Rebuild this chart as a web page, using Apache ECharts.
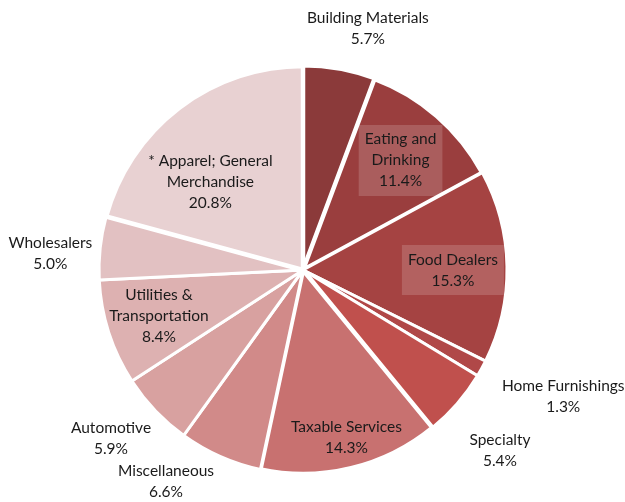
<!DOCTYPE html>
<html><head><meta charset="utf-8">
<script src="https://cdn.jsdelivr.net/npm/echarts@6/dist/echarts.min.js"></script>
<style>html,body{margin:0;padding:0;background:#fff}#c{width:625px;height:502px}</style>
</head><body><div id="c"></div>
<script>
const categories = ["Building Materials","Eating and\nDrinking","Food Dealers","Home Furnishings","Specialty","Taxable Services","Miscellaneous","Automotive","Utilities &\nTransportation","Wholesalers","* Apparel; General\nMerchandise"];
const values = [5.7, 11.4, 15.3, 1.3, 5.4, 14.3, 6.6, 5.9, 8.4, 5.0, 20.8];
const colors = ["#8B3A3A","#9A3E3E","#A54342","#B04848","#C0504D","#C87170","#D18A89","#D8A1A0","#DDB1B1","#E2C1C2","#E8D1D2"];
// label placement: radial fraction of radius and angular nudge (degrees) from slice mid-angle
const labelRadius = [1.224, 0.719, 0.735, 1.419, 1.31, 0.847, 1.236, 1.251, 0.741, 1.241, 0.626];
const labelNudge = [4.8, 0.7, 1.0, -2.9, 1.6, -0.9, 9.0, 2.4, 0.2, -2.4, -9.1];
const boxed = [false, true, true, false, false, false, false, false, false, false, false];
const wideBorder = [false, true, false, false, false, true, false, false, false, false, true];

const CX = 303, CY = 270, R = 204;
const total = values.reduce((a, b) => a + b, 0);
const midAngles = [];
let acc = 0;
values.forEach(v => { midAngles.push((acc + v / 2) / total * 360); acc += v; });

const chart = echarts.init(document.getElementById('c'), null, {renderer:'canvas'});
chart.setOption({
  animation: false,
  series: [{
    type: 'pie',
    center: [CX, CY],
    radius: [0, R],
    startAngle: 90,
    clockwise: true,
    itemStyle: {borderColor: '#fff', borderWidth: 3},
    emphasis: {disabled: true},
    labelLine: {show: false},
    label: {
      show: true,
      position: 'inside',
      formatter: p => p.name + '\n' + p.value.toFixed(1) + '%',
      fontFamily: 'Lato',
      fontSize: 15.5,
      lineHeight: 21,
      color: '#1a1a1a',
      align: 'center'
    },
    labelLayout: function (params) {
      const i = params.dataIndex;
      const a = (midAngles[i] + labelNudge[i]) * Math.PI / 180;
      const d = labelRadius[i] * R;
      return {x: CX + Math.sin(a) * d, y: CY - Math.cos(a) * d, align: 'center', verticalAlign: 'middle'};
    },
    data: categories.map((c, i) => ({
      name: c, value: values[i],
      itemStyle: {color: colors[i], borderWidth: wideBorder[i] ? 4.5 : 3},
      label: boxed[i] ? {backgroundColor: 'rgba(255,255,255,0.16)', padding: [5, 6, 3, 6]} : {}
    }))
  }]
});
</script></body></html>
